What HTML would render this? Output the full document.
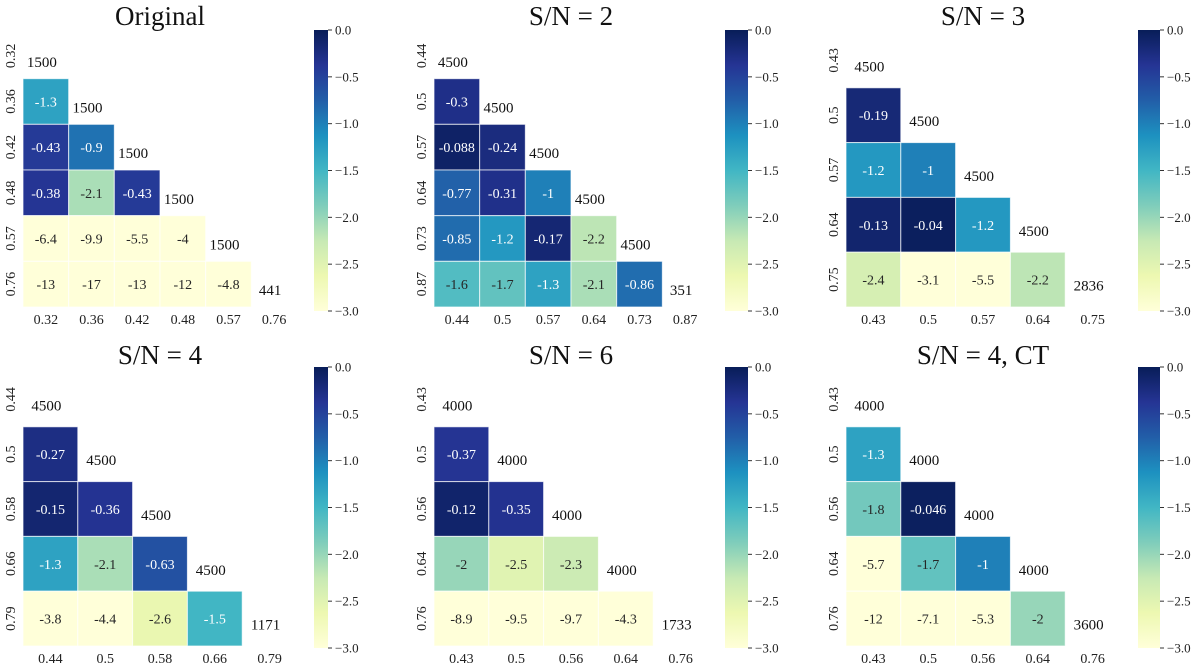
<!DOCTYPE html>
<html><head><meta charset="utf-8"><style>
html,body{margin:0;padding:0;background:#fff;}
svg{display:block;}
svg text{font-family:"Liberation Serif","DejaVu Serif",serif;}
</style></head><body>
<svg id="fig" width="1200" height="665" viewBox="0 0 1200 665" xmlns="http://www.w3.org/2000/svg" font-family="Liberation Serif, DejaVu Serif, serif">
<defs>
<linearGradient id="ylgnbu" x1="0" y1="1" x2="0" y2="0">
<stop offset="0" stop-color="#ffffd9"/><stop offset="0.125" stop-color="#edf8b1"/><stop offset="0.25" stop-color="#c7e9b4"/><stop offset="0.375" stop-color="#7fcdbb"/><stop offset="0.5" stop-color="#41b6c4"/><stop offset="0.625" stop-color="#1d91c0"/><stop offset="0.75" stop-color="#225ea8"/><stop offset="0.875" stop-color="#253494"/><stop offset="1" stop-color="#081d58"/>
</linearGradient>
</defs>
</svg>
<script>
// ---- data ----
const titles = ["Original", "S/N = 2", "S/N = 3", "S/N = 4", "S/N = 6", "S/N = 4, CT"];
const labels1 = ["0.32","0.36","0.42","0.48","0.57","0.76"];
const values1 = [[], [-1.3], [-0.43,-0.9], [-0.38,-2.1,-0.43], [-6.4,-9.9,-5.5,-4], [-13,-17,-13,-12,-4.8]];
const diag1 = [1500,1500,1500,1500,1500,441];
const labels2 = ["0.44","0.5","0.57","0.64","0.73","0.87"];
const values2 = [[], [-0.3], [-0.088,-0.24], [-0.77,-0.31,-1], [-0.85,-1.2,-0.17,-2.2], [-1.6,-1.7,-1.3,-2.1,-0.86]];
const diag2 = [4500,4500,4500,4500,4500,351];
const labels3 = ["0.43","0.5","0.57","0.64","0.75"];
const values3 = [[], [-0.19], [-1.2,-1], [-0.13,-0.04,-1.2], [-2.4,-3.1,-5.5,-2.2]];
const diag3 = [4500,4500,4500,4500,2836];
const labels4 = ["0.44","0.5","0.58","0.66","0.79"];
const values4 = [[], [-0.27], [-0.15,-0.36], [-1.3,-2.1,-0.63], [-3.8,-4.4,-2.6,-1.5]];
const diag4 = [4500,4500,4500,4500,1171];
const labels5 = ["0.43","0.5","0.56","0.64","0.76"];
const values5 = [[], [-0.37], [-0.12,-0.35], [-2,-2.5,-2.3], [-8.9,-9.5,-9.7,-4.3]];
const diag5 = [4000,4000,4000,4000,1733];
const labels6 = ["0.43","0.5","0.56","0.64","0.76"];
const values6 = [[], [-1.3], [-1.8,-0.046], [-5.7,-1.7,-1], [-12,-7.1,-5.3,-2]];
const diag6 = [4000,4000,4000,4000,3600];
const cbarTicks = [0, -0.5, -1, -1.5, -2, -2.5, -3];
const vmin = -3, vmax = 0;

const allLabels = [labels1,labels2,labels3,labels4,labels5,labels6];
const allValues = [values1,values2,values3,values4,values5,values6];
const allDiag = [diag1,diag2,diag3,diag4,diag5,diag6];

// ---- layout ----
const gridLefts = [23, 434, 846];
const gridTops = [33, 372];
const gridSize = 274;
const cbarX = [[314,14],[725,23],[1138,22]];
const cbarY = [[30,311],[367,648]];
const FF = "Liberation Serif, DejaVu Serif, serif";

const NS = "http://www.w3.org/2000/svg";
const svg = document.getElementById("fig");
function mk(tag, attrs, parent){
  const e = document.createElementNS(NS, tag);
  for (const k in attrs) e.setAttribute(k, attrs[k]);
  if (tag === "text") e.setAttribute("font-family", FF);
  (parent||svg).appendChild(e);
  return e;
}
const stops = ["#ffffd9","#edf8b1","#c7e9b4","#7fcdbb","#41b6c4","#1d91c0","#225ea8","#253494","#081d58"];
function hex(h){return [parseInt(h.slice(1,3),16),parseInt(h.slice(3,5),16),parseInt(h.slice(5,7),16)];}
function cmap(v){
  let t = (v - vmin)/(vmax - vmin); t = Math.max(0, Math.min(1, t));
  const p = t*(stops.length-1); const i = Math.min(Math.floor(p), stops.length-2); const f = p - i;
  const a = hex(stops[i]), b = hex(stops[i+1]);
  return a.map((c,j)=>Math.round(c+(b[j]-c)*f));
}
function lum(rgb){
  const l = rgb.map(c=>{c/=255; return c<=0.03928?c/12.92:Math.pow((c+0.055)/1.055,2.4);});
  return 0.2126*l[0]+0.7152*l[1]+0.0722*l[2];
}
function fmtTick(v){ return (v<0?"\u2212":"") + Math.abs(v).toFixed(1); }

for (let p = 0; p < 6; p++){
  const col = p % 3, row = Math.floor(p/3);
  const gx = gridLefts[col], gy = gridTops[row];
  const labs = allLabels[p], vals = allValues[p], dg = allDiag[p];
  const n = labs.length, cs = gridSize/n;
  const xs = i => gx + i*cs, ys = i => gy + i*cs;
  const g = mk("g", {});
  
  

  const t = mk("text", {x: gx + gridSize/2, y: gy - 8, "text-anchor":"middle", "font-size": 27, fill:"#111"}, g);
  t.textContent = titles[p];
  
  

  for (let i = 0; i < n; i++){
    for (let j = 0; j < vals[i].length; j++){
      const v = vals[i][j];
      const c = cmap(v);
      const r = mk("rect", {x: xs(j), y: ys(i), width: cs, height: cs, fill: `rgb(${c[0]},${c[1]},${c[2]})`, stroke:"#fff", "stroke-width":1, "stroke-opacity":0.7}, g);
      
      
      const tx = mk("text", {x: xs(j)+cs/2, y: ys(i)+cs/2+5, "text-anchor":"middle", "font-size": 14, fill: lum(c) > 0.408 ? "#262626" : "#ffffff"}, g);
      tx.textContent = String(v);
      
      
    }
    const d = mk("text", {x: xs(i)+cs/2-4, y: ys(i)+cs/2+11, "text-anchor":"middle", "font-size": 15, fill:"#111"}, g);
    d.textContent = String(dg[i]);
    
    

    const xl = mk("text", {x: xs(i)+cs/2, y: gy+gridSize+17, "text-anchor":"middle", "font-size": 14, fill:"#222"}, g);
    xl.textContent = labs[i];
    
    
    const yy = ys(i)+cs/2, yx = gx - 8;
    const yl = mk("text", {x: yx, y: yy, "text-anchor":"middle", "font-size": 14, fill:"#222", transform:`rotate(-90 ${yx} ${yy})`}, g);
    yl.textContent = labs[i];
    
    
  }

  const [cx, cw] = cbarX[col], [cy0, cy1] = cbarY[row];
  const cb = mk("rect", {x: cx, y: cy0, width: cw, height: cy1-cy0, fill:"url(#ylgnbu)"}, g);
  
  
  const cyv = v => cy0 + (vmax - v)/(vmax - vmin)*(cy1-cy0);
  for (const tv of cbarTicks){
    const y = cyv(tv);
    const tk = mk("line", {x1: cx+cw, x2: cx+cw+4, y1: y, y2: y, stroke:"#333", "stroke-width":1}, g);
    
    
    const tl = mk("text", {x: cx+cw+7, y: y+4.5, "font-size": 13, fill:"#222"}, g);
    tl.textContent = fmtTick(tv);
    
    
  }
}
</script>
</body></html>
